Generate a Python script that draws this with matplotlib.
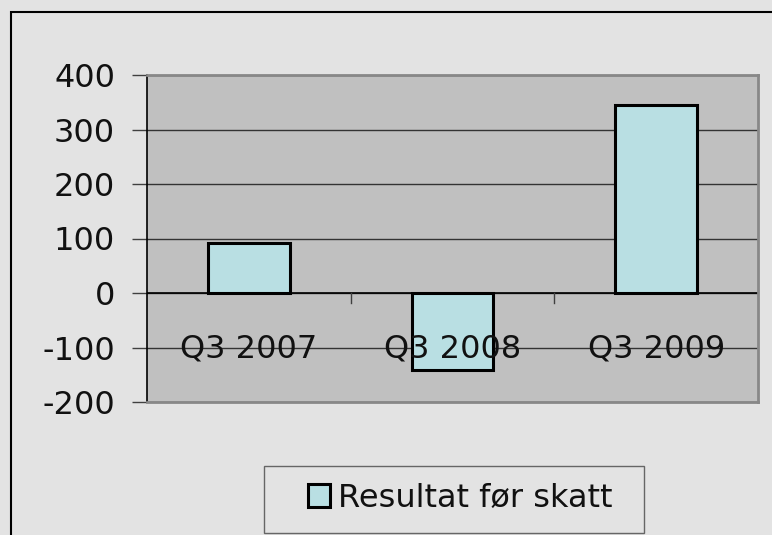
import matplotlib.pyplot as plt
from matplotlib.patches import Rectangle

categories = ["Q3 2007", "Q3 2008", "Q3 2009"]
values = [92, -142, 345]
series_name = "Resultat før skatt"
y_ticks = [-200, -100, 0, 100, 200, 300, 400]

plt.rcParams['font.family'] = ['DejaVu Sans']

fig = plt.figure(figsize=(7.72, 5.35), dpi=100)
fig.patch.set_facecolor('#e3e3e3')

# outer chart border (right/bottom run off the image)
fig.patches.append(Rectangle((11 / 772, -0.05), 1.0, 1 - 12 / 535 + 0.05,
                             transform=fig.transFigure, fill=False,
                             edgecolor='black', linewidth=1.5))

ax = fig.add_axes([147 / 772, 1 - 402 / 535, 611 / 772, 327 / 535])
ax.set_facecolor('#c0c0c0')

x = list(range(len(categories)))
ax.bar(x, values, width=0.4, color='#b9dfe3', edgecolor='black',
       linewidth=2.2, zorder=3, label=series_name)

ax.set_xlim(-0.5, len(categories) - 0.5)
ax.set_ylim(-200, 400)
ax.set_yticks(y_ticks)
ax.set_yticklabels([str(v) for v in y_ticks], fontsize=23, color='#111111')
ax.tick_params(axis='y', length=11, width=1, color='#404040', pad=12)
ax.yaxis.grid(True, color='#333333', linewidth=1)
ax.set_axisbelow(True)

# zero line and category separators
ax.axhline(0, color='black', linewidth=1.2, zorder=2)
ax.set_xticks([])
for b in [0.5, 1.5]:
    ax.plot([b, b], [0, -18], color='#404040', linewidth=1, zorder=2)

for i, c in enumerate(categories):
    ax.text(i, -103, c, ha='center', va='center', fontsize=23,
            color='#111111', zorder=4)

ax.spines['left'].set_color('black')
ax.spines['left'].set_linewidth(1.2)
for s in ['top', 'right', 'bottom']:
    ax.spines[s].set_color('#888888')
    ax.spines[s].set_linewidth(2)

# legend frame drawn separately so it can be wider than the entry
fig.patches.append(Rectangle((264 / 772, 1 - 533 / 535), 380 / 772, 67 / 535,
                             transform=fig.transFigure, facecolor='#e3e3e3',
                             edgecolor='#666666', linewidth=1))
leg = fig.legend(loc='center', bbox_to_anchor=(460 / 772, 1 - 498 / 535),
                 fontsize=23, frameon=False,
                 handlelength=0.7, handleheight=0.7, handletextpad=0.25,
                 borderpad=0, borderaxespad=0)
for t in leg.get_texts():
    t.set_color('#111111')

fig.savefig('out.png', dpi=100, facecolor=fig.get_facecolor())
